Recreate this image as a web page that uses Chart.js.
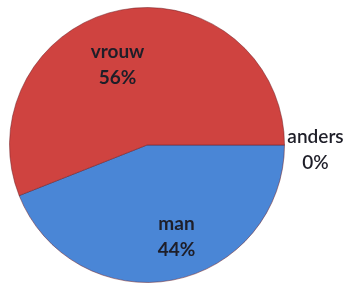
<!DOCTYPE html>
<html>
<head>
<meta charset="utf-8">
<script src="https://cdn.jsdelivr.net/npm/chart.js@4/dist/chart.umd.min.js"></script>
<style>
html,body{margin:0;padding:0;background:#fff;}
#wrap{width:350px;height:286px;position:relative;}
</style>
</head>
<body>
<div id="wrap"><canvas id="c" width="350" height="286"></canvas></div>
<script>
const categories = ["anders", "man", "vrouw"];
const values = [0, 44, 56];
const percentLabels = ["0%", "44%", "56%"];
const colors = ["#9BBB59", "#4A86D6", "#CF4340"];
const edgeColors = ["#7E9A45", "#3C70BC", "#B83632"];

function sliceFill(context) {
  const chart = context.chart;
  const i = context.dataIndex;
  const meta = chart.getDatasetMeta(0);
  const arc = meta.data[i];
  if (!arc || !arc.outerRadius) return colors[i];
  const g = chart.ctx.createRadialGradient(arc.x, arc.y, 0, arc.x, arc.y, arc.outerRadius);
  g.addColorStop(0, colors[i]);
  g.addColorStop(0.8, colors[i]);
  g.addColorStop(1, edgeColors[i]);
  return g;
}

const labelPlugin = {
  id: 'sliceLabels',
  afterDatasetsDraw(chart) {
    const ctx = chart.ctx;
    const meta = chart.getDatasetMeta(0);
    const nudges = [[0, 5], [13, 5], [-13, 6]];
    meta.data.forEach((arc, i) => {
      const p = arc.getProps(['x','y','startAngle','endAngle','outerRadius'], true);
      const mid = (p.startAngle + p.endAngle) / 2;
      let r;
      if (values[i] === 0) r = p.outerRadius + 31;
      else r = p.outerRadius * 0.64;
      const x = p.x + Math.cos(mid) * r + nudges[i][0];
      const y = p.y + Math.sin(mid) * r + nudges[i][1];
      ctx.save();
      ctx.fillStyle = '#1E1E28';
      ctx.textAlign = 'center';
      ctx.textBaseline = 'middle';
      ctx.font = (values[i] === 0 ? '600' : 'bold') + ' 19px Lato, "Open Sans", sans-serif';
      ctx.fillText(categories[i], x, y - 13);
      ctx.fillText(percentLabels[i], x, y + 13);
      ctx.restore();
    });
  }
};

new Chart(document.getElementById('c'), {
  type: 'pie',
  data: {
    labels: categories,
    datasets: [{
      data: values,
      backgroundColor: sliceFill,
      borderColor: 'rgba(110,30,35,0.5)',
      borderWidth: 1,
      hoverOffset: 0
    }]
  },
  options: {
    responsive: false,
    animation: false,
    rotation: 90,
    layout: { padding: { left: 9, right: 65, top: 7, bottom: 3 } },
    plugins: {
      legend: { display: false },
      tooltip: { enabled: false }
    }
  },
  plugins: [labelPlugin]
});
</script>
</body>
</html>
